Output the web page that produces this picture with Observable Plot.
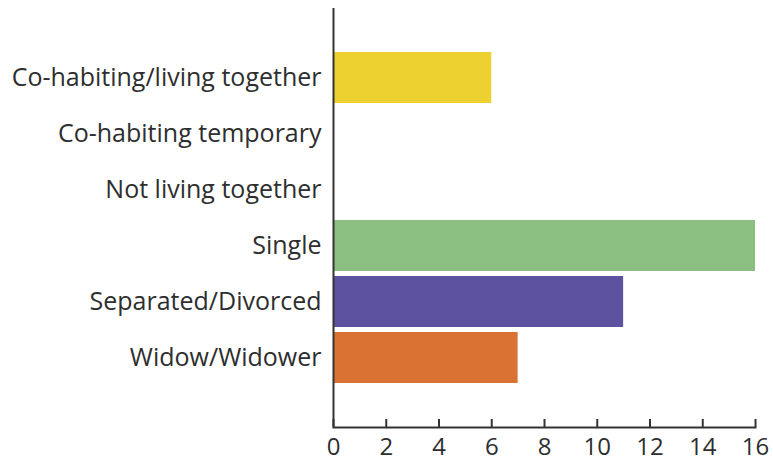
<!DOCTYPE html>
<html>
<head>
<meta charset="utf-8">
<script src="https://cdn.jsdelivr.net/npm/d3@7"></script>
<script src="https://cdn.jsdelivr.net/npm/@observablehq/plot@0.6"></script>
<style>
  html, body { margin: 0; padding: 0; background: #fff; }
  #chart { width: 773px; height: 464px; }
</style>
</head>
<body>
<div id="chart"></div>
<script>
const categories = [
  "Co-habiting/living together",
  "Co-habiting temporary",
  "Not living together",
  "Single",
  "Separated/Divorced",
  "Widow/Widower"
];
const values = [6, 0, 0, 16, 11, 7];
const colors = ["#EDD131", "#EDD131", "#EDD131", "#8ABF81", "#5D52A0", "#DA7233"];
const xTicks = [0, 2, 4, 6, 8, 10, 12, 14, 16];

const data = categories.map((c, i) => ({category: c, value: values[i], color: colors[i]}));

const chart = Plot.plot({
  width: 773,
  height: 464,
  marginTop: 8,
  marginBottom: 37,
  marginLeft: 333,
  marginRight: 18,
  style: {fontFamily: "'Open Sans', sans-serif", background: "#fff", overflow: "visible"},
  x: {domain: [0, 16], ticks: xTicks},
  y: {domain: categories, paddingInner: 0.09, paddingOuter: 0.77},
  marks: [
    Plot.barX(data.filter(d => d.value > 0), {x: "value", y: "category", fill: "color"}),
    Plot.ruleX([0], {stroke: "#333", strokeWidth: 2}),
    Plot.frame({anchor: "bottom", stroke: "#333", strokeWidth: 2}),
    Plot.axisX(xTicks, {anchor: "bottom", tickSize: 8, dy: -8, stroke: "#333", strokeWidth: 2, tickFormat: () => "", label: null}),
    Plot.axisX(xTicks, {anchor: "bottom", tickSize: 0, tickPadding: 10, fontSize: 24, fill: "#2e2e2e", label: null}),
    Plot.axisY({tickSize: 0, tickPadding: 12, fontSize: 25, fill: "#2e2e2e", label: null})
  ]
});
document.getElementById("chart").appendChild(chart);
</script>
</body>
</html>
